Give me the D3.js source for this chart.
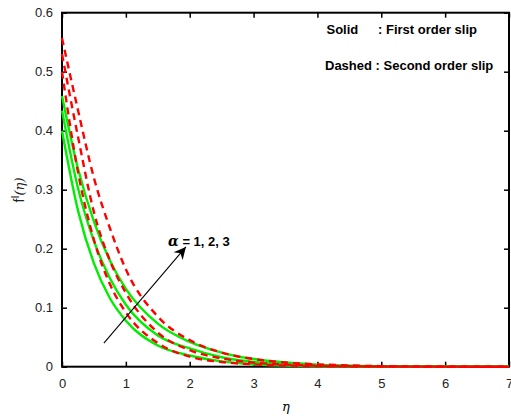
<!DOCTYPE html>
<html>
<head>
<meta charset="utf-8">
<script src="https://cdn.jsdelivr.net/npm/d3@7"></script>
<style>
  body { margin: 0; background: #fff; }
  svg { display: block; font-family: "Liberation Sans", Arial, sans-serif; }
</style>
</head>
<body>
<div id="chart"></div>
<script>
// f'(eta) profiles, first order slip (solid) vs second order slip (dashed), alpha = 1, 2, 3
const width = 511, height = 418, margin = {top: 12.7, right: 1, bottom: 51.3, left: 62};

const eta = [0, 0.25, 0.5, 0.75, 1, 1.5, 2, 2.5, 3, 3.5, 4, 5, 6, 7];
const solidA1 = [0.400, 0.265, 0.175, 0.116, 0.078, 0.036, 0.019, 0.009, 0.004, 0.0018, 0.0008, 0.0002, 0, 0];
const solidA2 = [0.434, 0.303, 0.213, 0.150, 0.105, 0.053, 0.031, 0.016, 0.008, 0.004, 0.002, 0.0004, 0.0001, 0];
const solidA3 = [0.459, 0.336, 0.246, 0.180, 0.132, 0.073, 0.042, 0.024, 0.013, 0.007, 0.0035, 0.0009, 0.0002, 0];
const dashedA1 = [0.500, 0.330, 0.215, 0.140, 0.092, 0.040, 0.017, 0.008, 0.004, 0.002, 0.001, 0.0002, 0, 0];
const dashedA2 = [0.530, 0.390, 0.262, 0.180, 0.125, 0.058, 0.028, 0.014, 0.007, 0.0035, 0.0018, 0.0004, 0.0001, 0];
const dashedA3 = [0.557, 0.435, 0.320, 0.235, 0.165, 0.085, 0.045, 0.024, 0.013, 0.007, 0.004, 0.001, 0.0002, 0];
const xTicks = [0, 1, 2, 3, 4, 5, 6, 7];
const yTicks = [0, 0.1, 0.2, 0.3, 0.4, 0.5, 0.6];

const svg = d3.select("#chart").append("svg").attr("width", width).attr("height", height);

const x = d3.scaleLinear().domain([0, 7]).range([margin.left, width - margin.right - 1]);
const y = d3.scaleLinear().domain([0, 0.6]).range([height - margin.bottom, margin.top]);

const tickLen = 5;
function styleAxis(g, labels) {
  g.select(".domain").remove();
  g.selectAll(".tick line").attr("stroke", "#000").attr("stroke-width", 1.5);
  if (!labels) g.selectAll(".tick text").remove();
  else g.selectAll(".tick text").attr("fill", "#222").attr("font-size", 13);
}

svg.append("g").attr("transform", `translate(0,${y(0)})`)
  .call(d3.axisBottom(x).tickValues(xTicks).tickFormat(d3.format("d")).tickSize(-tickLen).tickPadding(12))
  .call(styleAxis, true);
svg.append("g").attr("transform", `translate(0,${y(0.6)})`)
  .call(d3.axisTop(x).tickValues(xTicks).tickSize(-tickLen)).call(styleAxis, false);
svg.append("g").attr("transform", `translate(${x(0)},0)`)
  .call(d3.axisLeft(y).tickValues(yTicks).tickFormat(d => d === 0 ? "0" : d3.format(".1f")(d)).tickSize(-tickLen).tickPadding(9))
  .call(styleAxis, true);
svg.append("g").attr("transform", `translate(${x(7)},0)`)
  .call(d3.axisRight(y).tickValues(yTicks).tickSize(-tickLen)).call(styleAxis, false);

svg.append("rect").attr("x", x(0)).attr("y", y(0.6))
  .attr("width", x(7) - x(0)).attr("height", y(0) - y(0.6))
  .attr("fill", "none").attr("stroke", "#000").attr("stroke-width", 2);

const line = d3.line().x((d, i) => x(eta[i])).y(d => y(d)).curve(d3.curveMonotoneX);

[solidA1, solidA2, solidA3].forEach(s => {
  svg.append("path").datum(s).attr("fill", "none").attr("stroke", "#00ee00")
    .attr("stroke-width", 2.4).attr("d", line);
});
[dashedA1, dashedA2, dashedA3].forEach(s => {
  svg.append("path").datum(s).attr("fill", "none").attr("stroke", "#ff0000")
    .attr("stroke-width", 2.4).attr("stroke-dasharray", "7,5").attr("d", line);
});

// arrow annotation
svg.append("defs").append("marker").attr("id", "head")
  .attr("viewBox", "0 0 10 10").attr("refX", 10).attr("refY", 5)
  .attr("markerWidth", 14).attr("markerHeight", 12).attr("markerUnits", "userSpaceOnUse")
  .attr("orient", "auto")
  .append("path").attr("d", "M0,0 L10,5 L0,10 L3,5 Z").attr("fill", "#000");
svg.append("line").attr("x1", x(0.656)).attr("y1", y(0.040))
  .attr("x2", x(1.94)).attr("y2", y(0.203))
  .attr("stroke", "#000").attr("stroke-width", 1.1).attr("marker-end", "url(#head)");

const aLabel = svg.append("text").attr("x", x(1.66)).attr("y", y(0.205))
  .attr("font-size", 14).attr("font-weight", "bold");
aLabel.append("tspan").attr("font-family", "DejaVu Serif").attr("font-style", "italic").text("α");
aLabel.append("tspan").attr("font-size", 13).text(" = 1, 2, 3");

// legend
svg.append("text").attr("x", 326.5).attr("y", 34).attr("font-size", 13).attr("font-weight", "bold")
  .text("Solid");
svg.append("text").attr("x", 378).attr("y", 34).attr("font-size", 13).attr("font-weight", "bold")
  .text(": First order slip");
svg.append("text").attr("x", 325).attr("y", 70).attr("font-size", 13).attr("font-weight", "bold")
  .text("Dashed : Second order slip");

// axis titles
svg.append("text").attr("x", 286).attr("y", 411).attr("text-anchor", "middle")
  .attr("font-family", "DejaVu Serif").attr("font-style", "italic").attr("font-size", 13).text("η");

const yLabel = svg.append("text").attr("transform", "translate(24,190) rotate(-90)")
  .attr("text-anchor", "middle").attr("font-size", 14).attr("fill", "#222");
yLabel.append("tspan").text("f");
yLabel.append("tspan").attr("font-size", 11).attr("dy", -5).text("I");
yLabel.append("tspan").attr("dy", 5).attr("font-family", "DejaVu Serif").attr("font-style", "italic").attr("font-size", 13).text("(η)");
</script>
</body>
</html>
